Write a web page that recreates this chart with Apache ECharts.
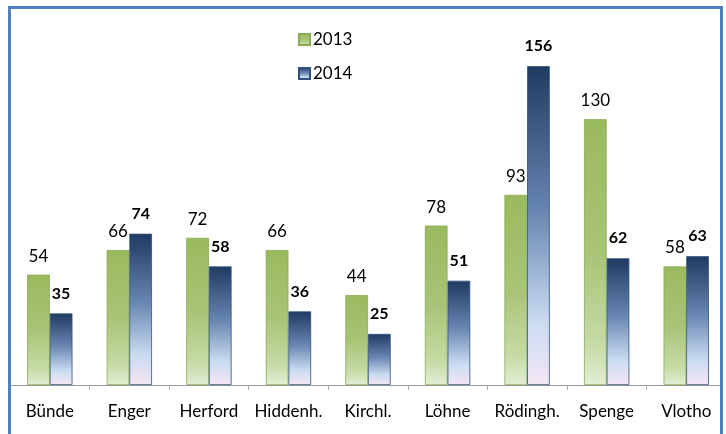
<!DOCTYPE html>
<html>
<head>
<meta charset="utf-8">
<script src="https://cdn.jsdelivr.net/npm/echarts@6/dist/echarts.min.js"></script>
<style>
  html, body { margin: 0; padding: 0; background: #fff; }
  #chart { width: 726px; height: 434px; }
</style>
</head>
<body>
<div id="chart"></div>
<script>
  // Daten
  var orte = ['Bünde', 'Enger', 'Herford', 'Hiddenh.', 'Kirchl.', 'Löhne', 'Rödingh.', 'Spenge', 'Vlotho'];
  var werte2013 = [54, 66, 72, 66, 44, 78, 93, 130, 58];
  var werte2014 = [35, 74, 58, 36, 25, 51, 156, 62, 63];

  var gruen = new echarts.graphic.LinearGradient(0, 0, 0, 1, [
    {offset: 0, color: '#9aba5e'},
    {offset: 0.5, color: '#a8c476'},
    {offset: 0.85, color: '#c6dba6'},
    {offset: 1, color: '#e2eed4'}
  ]);
  var blau = new echarts.graphic.LinearGradient(0, 0, 0, 1, [
    {offset: 0, color: '#1f3a63'},
    {offset: 0.45, color: '#6685b0'},
    {offset: 0.8, color: '#c9dbf1'},
    {offset: 1, color: '#f4e6f4'}
  ]);

  var myChart = echarts.init(document.getElementById('chart'));
  myChart.setOption({
    animation: false,
    textStyle: {fontFamily: 'Lato'},
    legend: {
      orient: 'vertical',
      left: 293,
      top: 26,
      itemWidth: 11,
      itemHeight: 11,
      itemGap: 17,
      icon: 'rect',
      textStyle: {fontSize: 17, color: '#000', padding: [0, 0, 0, -2]},
      data: ['2013', '2014']
    },
    grid: {left: 10, right: 0, top: 17, bottom: 49},
    xAxis: {
      type: 'category',
      data: orte,
      axisLine: {lineStyle: {color: '#9a9a9a', width: 1}},
      axisTick: {show: true, length: 5, interval: 0, lineStyle: {color: '#b0b0b0'}},
      axisLabel: {fontSize: 17, color: '#000', margin: 18, interval: 0}
    },
    yAxis: {
      type: 'value',
      min: 0,
      max: 180,
      show: false,
      splitLine: {show: false}
    },
    series: [
      {
        name: '2013',
        type: 'bar',
        data: werte2013,
        barWidth: '28.5%',
        barGap: '0%',
        itemStyle: {color: gruen, borderColor: '#8aa955', borderWidth: 0.8},
        label: {show: true, position: 'top', distance: 10, fontSize: 17, color: '#000'}
      },
      {
        name: '2014',
        type: 'bar',
        data: werte2014,
        barWidth: '28.5%',
        itemStyle: {color: blau, borderColor: '#34507a', borderWidth: 0.8},
        label: {show: true, position: 'top', distance: 12, fontSize: 16, fontWeight: 'bold', color: '#000'}
      }
    ],
    graphic: [
      {
        type: 'rect',
        z: 100,
        shape: {x: 9.5, y: 7.5, width: 712, height: 450},
        style: {fill: 'none', stroke: '#4f81bd', lineWidth: 3}
      },
      {
        type: 'rect',
        z: 99,
        shape: {x: 723, y: 0, width: 10, height: 434},
        style: {fill: '#fff'}
      }
    ]
  });
</script>
</body>
</html>
